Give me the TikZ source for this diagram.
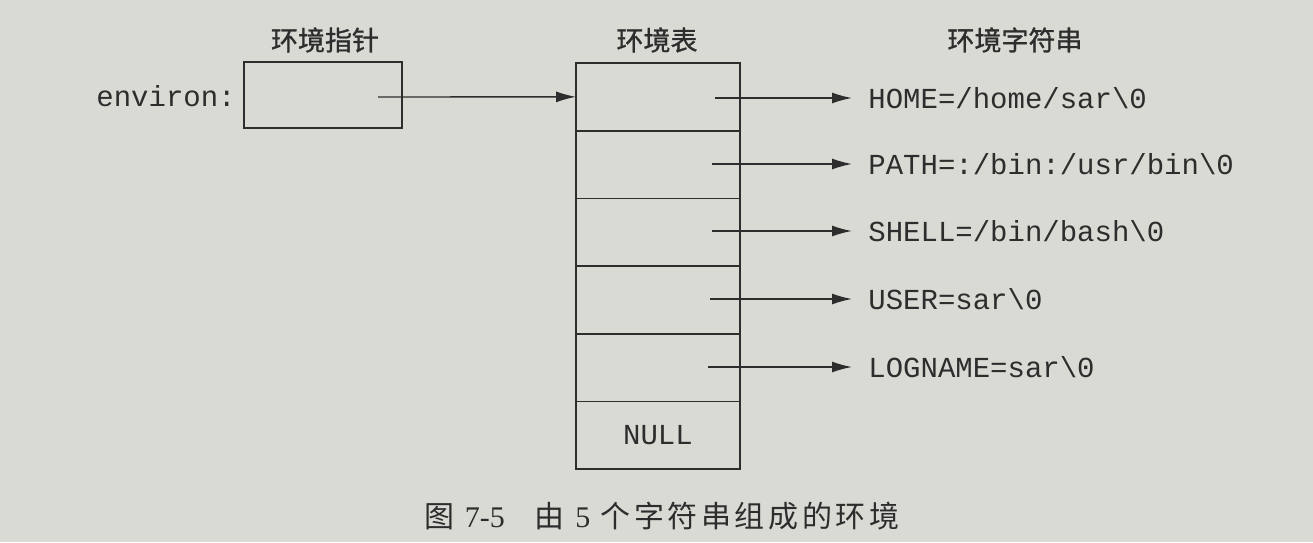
\documentclass[tikz,border=0pt]{standalone}
\usepackage{fontspec}
\setmonofont{Liberation Mono}
\newfontfamily\cjk{Noto Sans CJK SC}
\newfontfamily\cjkh[FakeBold=1]{Noto Sans CJK SC}
\newfontfamily\cjkcap[LetterSpace=12]{Noto Sans CJK SC}
\newfontfamily\serifnum{Liberation Serif}
\usetikzlibrary{arrows.meta}
\definecolor{paper}{RGB}{218,218,213}
\definecolor{ink}{RGB}{45,45,45}
\begin{document}
\begin{tikzpicture}[x=0.5pt,y=-0.5pt,
  cell/.style={draw=ink,line width=0.8pt,minimum width=82pt,minimum height=33.85pt,inner sep=0pt,outer sep=0pt},
  ptrbox/.style={draw=ink,line width=0.8pt,minimum width=79pt,minimum height=33pt,inner sep=0pt,outer sep=0pt},
  mono/.style={text=ink,font=\ttfamily\fontsize{14.5}{16}\selectfont,inner sep=0pt},
  head/.style={text=ink,font=\cjkh\fontsize{13.5}{16}\selectfont,inner sep=0pt},
  conn/.style={draw=ink,line width=0.7pt,-{Latex[length=10pt,width=5.5pt]}}
]
\fill[paper] (0,0) rectangle (1313,542);
\useasboundingbox (0,0) rectangle (1313,542);

% headings
\node[head] (h1) at (325,40) {环境指针};
\node[head] (h2) at (657,40) {环境表};
\node[head] (h3) at (1015,40) {环境字符串};

% pointer
\node[mono,anchor=west] (env) at (96,96) {environ:};
\node[ptrbox] (ptr) at (323,95) {};
\coordinate (p0) at (378,97);

% table cells
\node[cell] (c1) at (658,96.85) {};
\node[cell] (c2) at (658,164.55) {};
\node[cell] (c3) at (658,232.25) {};
\node[cell] (c4) at (658,299.95) {};
\node[cell] (c5) at (658,367.65) {};
\node[cell,mono,minimum width=82pt,minimum height=33.85pt] (c6) at (658,435.35) {NULL};

\draw[conn] (p0) -- (c1.west);

% strings
\node[mono,anchor=west,inner xsep=8pt] (s1) at (852,98) {HOME=/home/sar\textbackslash 0};
\node[mono,anchor=west,inner xsep=8pt] (s2) at (852,164) {PATH=:/bin:/usr/bin\textbackslash 0};
\node[mono,anchor=west,inner xsep=8pt] (s3) at (852,231) {SHELL=/bin/bash\textbackslash 0};
\node[mono,anchor=west,inner xsep=8pt] (s4) at (852,299) {USER=sar\textbackslash 0};
\node[mono,anchor=west,inner xsep=8pt] (s5) at (852,367) {LOGNAME=sar\textbackslash 0};

\coordinate (a1) at (715,98);
\coordinate (a2) at (712,164);
\coordinate (a3) at (712,231);
\coordinate (a4) at (710,299);
\coordinate (a5) at (708,367);
\draw[conn] (a1) -- (s1.west);
\draw[conn] (a2) -- (s2.west);
\draw[conn] (a3) -- (s3.west);
\draw[conn] (a4) -- (s4.west);
\draw[conn] (a5) -- (s5.west);

% caption
\node[text=ink,font=\cjkcap\fontsize{15}{18}\selectfont,inner sep=0pt] (cap) at (662,516)
  {图 {\serifnum 7-5}\quad 由 {\serifnum 5} 个字符串组成的环境};
\end{tikzpicture}
\end{document}
